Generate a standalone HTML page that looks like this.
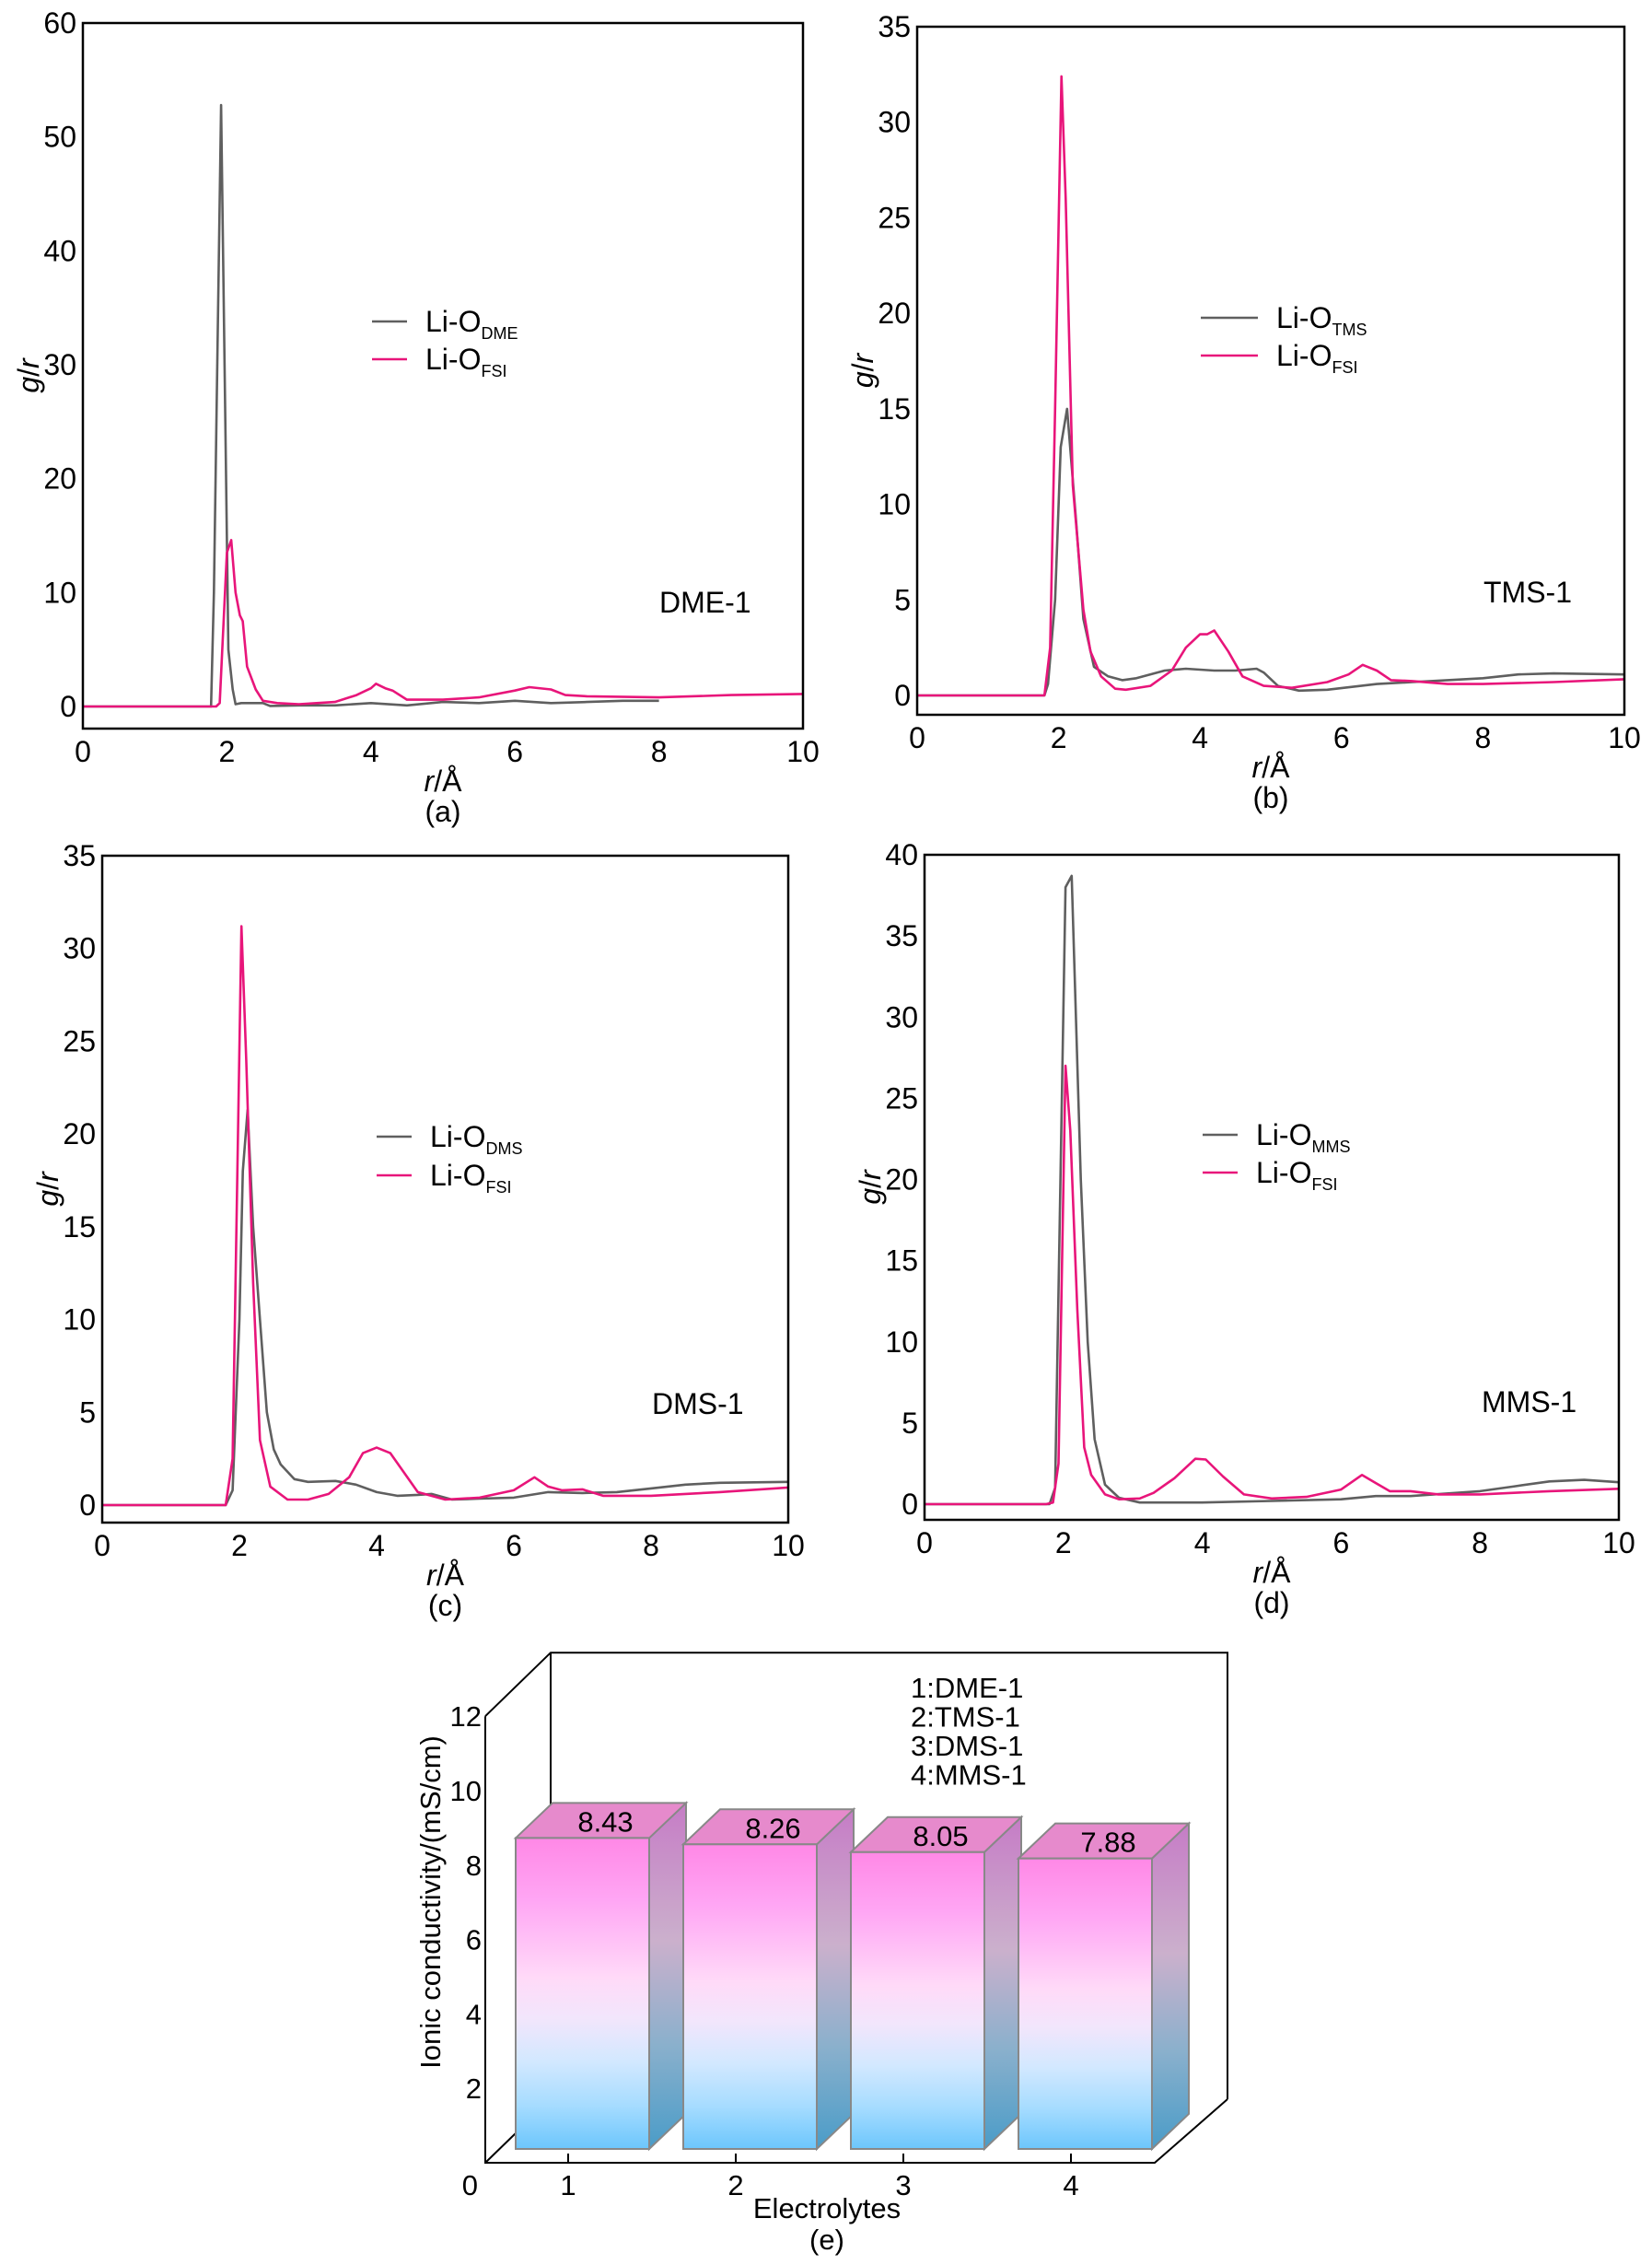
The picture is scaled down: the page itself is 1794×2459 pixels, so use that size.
<!DOCTYPE html>
<html><head><meta charset="utf-8">
<style>
html,body{margin:0;padding:0;background:#fff;}
svg{display:block;font-family:"Liberation Sans",Arial,sans-serif;}
</style></head>
<body>
<svg id="fig" width="1794" height="2459" viewBox="0 0 1794 2459" xmlns="http://www.w3.org/2000/svg">
<defs>
<linearGradient id="gFront" x1="0" y1="0" x2="0" y2="1">
<stop offset="0" stop-color="#ff88e6"/><stop offset="0.2" stop-color="#ffa6f4"/><stop offset="0.45" stop-color="#ffdaf8"/><stop offset="0.58" stop-color="#f2e6fc"/><stop offset="0.72" stop-color="#d2e8ff"/><stop offset="0.86" stop-color="#a6dcff"/><stop offset="1" stop-color="#6cc6fc"/>
</linearGradient>
<linearGradient id="gSide" x1="0" y1="0" x2="0" y2="1">
<stop offset="0" stop-color="#c67cc6"/><stop offset="0.4" stop-color="#cbb0cc"/><stop offset="0.7" stop-color="#8ab0cc"/><stop offset="1" stop-color="#4a9cc8"/>
</linearGradient>
</defs>
</svg>
<script>
// ---- Panel data (r in Å, g/r) ----
const aGrayR=[0,1.78,1.82,1.92,2.02,2.08,2.12,2.2,2.5,2.6,3,3.5,4,4.5,5,5.5,6,6.5,7,7.5,8];
const aGrayG=[0,0,10,52.8,5,1.5,0.2,0.3,0.3,0.05,0.1,0.1,0.3,0.1,0.4,0.3,0.5,0.3,0.4,0.5,0.5];
const aPinkR=[0,1.85,1.9,2.0,2.06,2.12,2.18,2.22,2.28,2.4,2.5,2.7,3.0,3.5,3.8,4.0,4.07,4.2,4.3,4.5,5,5.5,6,6.2,6.5,6.7,7,8,9,10];
const aPinkG=[0,0,0.3,13.5,14.6,10,8,7.5,3.5,1.5,0.5,0.3,0.2,0.4,1,1.6,2,1.6,1.4,0.6,0.6,0.8,1.4,1.7,1.5,1.0,0.9,0.8,1.0,1.1];
const bGrayR=[0,1.8,1.85,1.95,2.03,2.12,2.25,2.35,2.5,2.7,2.9,3.1,3.5,3.8,4.2,4.5,4.8,4.9,5.1,5.4,5.8,6.5,7,7.5,8,8.5,9,10];
const bGrayG=[0,0,0.6,5,13,15,9,4,1.5,1.0,0.8,0.9,1.3,1.4,1.3,1.3,1.4,1.2,0.5,0.25,0.3,0.6,0.7,0.8,0.9,1.1,1.15,1.1];
const bPinkR=[0,1.8,1.88,1.95,2.04,2.1,2.2,2.35,2.45,2.6,2.8,2.95,3.3,3.6,3.8,4.0,4.1,4.2,4.4,4.6,4.9,5.3,5.8,6.1,6.3,6.5,6.7,7,7.5,8,9,10];
const bPinkG=[0,0,2.5,15,32.4,26,11,4.5,2.3,1.0,0.35,0.3,0.5,1.3,2.5,3.2,3.2,3.4,2.3,1.0,0.5,0.4,0.7,1.1,1.6,1.3,0.8,0.75,0.6,0.6,0.7,0.85];
const cGrayR=[0,1.8,1.9,2.0,2.05,2.12,2.2,2.3,2.4,2.5,2.6,2.8,3.0,3.4,3.7,4.0,4.3,4.6,4.8,5.1,5.5,6,6.5,7,7.5,8,8.5,9,10];
const cGrayG=[0,0,0.8,10,18,21.3,15,10,5,3,2.2,1.4,1.25,1.3,1.1,0.7,0.5,0.55,0.6,0.3,0.35,0.4,0.7,0.65,0.7,0.9,1.1,1.2,1.25];
const cPinkR=[0,1.8,1.9,2.03,2.1,2.2,2.3,2.45,2.7,3.0,3.3,3.6,3.8,4.0,4.2,4.6,5.0,5.5,6.0,6.3,6.5,6.7,7.0,7.3,8,9,10];
const cPinkG=[0,0,2.5,31.2,24,12,3.5,1.0,0.3,0.3,0.6,1.5,2.8,3.1,2.8,0.7,0.3,0.4,0.8,1.5,1.0,0.8,0.85,0.5,0.5,0.7,0.95];
const dGrayR=[0,1.8,1.88,2.03,2.12,2.25,2.35,2.45,2.6,2.8,3.1,4,5,6,6.5,7,8,8.5,9,9.5,10];
const dGrayG=[0,0,1,38,38.7,20,10,4,1.2,0.4,0.1,0.1,0.2,0.3,0.5,0.5,0.8,1.1,1.4,1.5,1.35];
const dPinkR=[0,1.75,1.85,1.93,2.03,2.1,2.2,2.3,2.4,2.6,2.8,3.1,3.3,3.6,3.9,4.05,4.3,4.6,5.0,5.5,6.0,6.3,6.5,6.7,7.0,7.4,8,9,10];
const dPinkG=[0,0,0.1,2.5,27,23,12,3.5,1.8,0.6,0.3,0.35,0.7,1.6,2.8,2.75,1.7,0.6,0.35,0.45,0.9,1.8,1.3,0.8,0.8,0.6,0.6,0.8,0.95];
const xTicks=[0,2,4,6,8,10];
const aYTicks=[0,10,20,30,40,50,60];
const bYTicks=[0,5,10,15,20,25,30,35];
const cYTicks=[0,5,10,15,20,25,30,35];
const dYTicks=[0,5,10,15,20,25,30,35,40];
// ---- Bar chart data ----
const barCats=['1','2','3','4'];
const barValues=[8.43,8.26,8.05,7.88];
const barYTicks=[2,4,6,8,10,12];
const legendLines=['1:DME-1','2:TMS-1','3:DMS-1','4:MMS-1'];

const NS='http://www.w3.org/2000/svg';
const svg=document.getElementById('fig');
function mk(tag,attrs,parent){const e=document.createElementNS(NS,tag);for(const k in attrs)e.setAttribute(k,attrs[k]);(parent||svg).appendChild(e);return e;}
const GRAY='#5f5f5f',PINK='#e8157a';

function panel(cfg){
  const g=mk('g',{});
  
  
  const xs=v=>cfg.L+(cfg.R-cfg.L)*v/10;
  const ys=v=>cfg.y0-(cfg.y0-cfg.yTop)*v/cfg.ymax;
  const series=[[cfg.grayR,cfg.grayG,GRAY,'gray-series'],[cfg.pinkR,cfg.pinkG,PINK,'fsi-series']];
  series.forEach(s=>{
    const d=s[0].map((r,i)=>(i?'L':'M')+xs(r).toFixed(1)+','+ys(s[1][i]).toFixed(1)).join(' ');
    const p=mk('path',{d:d,fill:'none',stroke:s[2],'stroke-width':2.6,'stroke-linejoin':'round'},g);
    
    
  });
  const fr=mk('rect',{x:cfg.L,y:cfg.yTop,width:cfg.R-cfg.L,height:cfg.B-cfg.yTop,fill:'none',stroke:'#000','stroke-width':2.5},g);
  
  
  xTicks.forEach(v=>{
    const t=mk('text',{x:xs(v),y:cfg.B+36,'font-size':32,'text-anchor':'middle'},g);
    t.textContent=v;
    
    
  });
  cfg.yTicks.forEach(v=>{
    const t=mk('text',{x:cfg.L-7,y:ys(v)+11,'font-size':32,'text-anchor':'end'},g);
    t.textContent=v;
    
    
  });
  const xt=mk('text',{x:(cfg.L+cfg.R)/2,y:cfg.B+68,'font-size':32,'text-anchor':'middle'},g);
  xt.innerHTML='<tspan font-style="italic">r</tspan>/Å';
  
  
  const cap=mk('text',{x:(cfg.L+cfg.R)/2,y:cfg.B+101,'font-size':32,'text-anchor':'middle'},g);
  cap.textContent=cfg.cap;
  
  
  const yt=mk('text',{x:0,y:0,'font-size':32,'text-anchor':'middle',transform:`translate(${cfg.L-48},${(cfg.yTop+cfg.B)/2}) rotate(-90)`},g);
  yt.innerHTML='<tspan font-style="italic">g</tspan>/<tspan font-style="italic">r</tspan>';
  
  
  [[GRAY,cfg.sub,cfg.legY1],[PINK,'FSI',cfg.legY2]].forEach(l=>{
    const ln=mk('line',{x1:cfg.legX1,x2:cfg.legX2,y1:l[2],y2:l[2],stroke:l[0],'stroke-width':2.6},g);
    
    
    const t=mk('text',{x:cfg.legX2+20,y:l[2]+11,'font-size':32},g);
    t.innerHTML='Li-O<tspan font-size="18" dy="8">'+l[1]+'</tspan>';
    
    
  });
  const lab=mk('text',{x:cfg.labX,y:cfg.labY,'font-size':32},g);
  lab.textContent=cfg.label;
  
  
}

panel({name:'panel-a',L:90,R:872,yTop:25,y0:767,B:791,ymax:60,yTicks:aYTicks,grayR:aGrayR,grayG:aGrayG,pinkR:aPinkR,pinkG:aPinkG,sub:'DME',legX1:404,legX2:442,legY1:349,legY2:390,label:'DME-1',labX:716,labY:665,cap:'(a)'});
panel({name:'panel-b',L:996,R:1764,yTop:29,y0:755,B:776,ymax:35,yTicks:bYTicks,grayR:bGrayR,grayG:bGrayG,pinkR:bPinkR,pinkG:bPinkG,sub:'TMS',legX1:1304,legX2:1366,legY1:345,legY2:386,label:'TMS-1',labX:1611,labY:654,cap:'(b)'});
panel({name:'panel-c',L:111,R:856,yTop:929,y0:1634,B:1653,ymax:35,yTicks:cYTicks,grayR:cGrayR,grayG:cGrayG,pinkR:cPinkR,pinkG:cPinkG,sub:'DMS',legX1:409,legX2:447,legY1:1234,legY2:1276,label:'DMS-1',labX:708,labY:1535,cap:'(c)'});
panel({name:'panel-d',L:1004,R:1758,yTop:928,y0:1633,B:1650,ymax:40,yTicks:dYTicks,grayR:dGrayR,grayG:dGrayG,pinkR:dPinkR,pinkG:dPinkG,sub:'MMS',legX1:1306,legX2:1344,legY1:1232,legY2:1273,label:'MMS-1',labX:1609,labY:1533,cap:'(d)'});

// ---- Panel e: 3D bar chart ----
(function(){
  const g=mk('g',{});
  
  
  const AX=527, Y0=2348, PER=40.4, DX=71, DY=-69, FLOOR_R=1254, BACK_R=1333;
  const ys=v=>Y0-PER*v;
  const xc=i=>617+182*i;
  const st={stroke:'#000','stroke-width':2,fill:'none'};
  const box=mk('path',Object.assign({d:`M${AX},${ys(12)} L${AX},${Y0} L${FLOOR_R},${Y0} L${FLOOR_R+DX+8},${Y0+DY} M${AX},${ys(12)} L${AX+DX},${ys(12)+DY} L${BACK_R},${ys(12)+DY} L${BACK_R},${Y0+DY} L${FLOOR_R+DX+8},${Y0+DY} M${AX+DX},${ys(12)+DY} L${AX+DX},${Y0+DY} M${AX},${Y0} L${AX+DX},${Y0+DY}`},st),g);
  
  
  const bdx=40,bdy=-38,bw=145;
  barValues.forEach((v,i)=>{
    const L=xc(i)-57, R=L+bw, T=ys(v)-12, Bt=Y0-15;
    const bg=mk('g',{},g);
    
    
    mk('path',{d:`M${R},${T} L${R+bdx},${T+bdy} L${R+bdx},${Bt+bdy} L${R},${Bt} Z`,fill:'url(#gSide)',stroke:'#888','stroke-width':2},bg);
    mk('path',{d:`M${L},${T} L${L+bdx},${T+bdy} L${R+bdx},${T+bdy} L${R},${T} Z`,fill:'#e68acc',stroke:'#888','stroke-width':2},bg);
    mk('rect',{x:L,y:T,width:bw,height:Bt-T,fill:'url(#gFront)',stroke:'#888','stroke-width':2},bg);
    const t=mk('text',{x:L+bw/2+bdx/2+5,y:T-7,'font-size':31,'text-anchor':'middle'},bg);
    t.textContent=v.toFixed(2);
    
    
    mk('line',{x1:xc(i),x2:xc(i),y1:Y0,y2:Y0-10,stroke:'#000','stroke-width':2},g);
    const c=mk('text',{x:xc(i),y:Y0+35,'font-size':31,'text-anchor':'middle'},g);
    c.textContent=barCats[i];
    
    
  });
  barYTicks.forEach(v=>{
    const t=mk('text',{x:AX-4,y:ys(v)+11,'font-size':31,'text-anchor':'end'},g);
    t.textContent=v;
    
    
  });
  const z=mk('text',{x:AX-8,y:Y0+35,'font-size':31,'text-anchor':'end'},g);
  z.textContent='0';
  
  
  legendLines.forEach((s,i)=>{
    const t=mk('text',{x:989,y:1843+31.5*i,'font-size':31},g);
    t.textContent=s;
    
    
  });
  const yt=mk('text',{x:0,y:0,'font-size':31,'text-anchor':'middle',transform:`translate(478,2065) rotate(-90)`},g);
  yt.textContent='Ionic conductivity/(mS/cm)';
  
  
  const xt=mk('text',{x:898,y:2408,'font-size':31,'text-anchor':'middle'},g);
  xt.textContent='Electrolytes';
  
  
  const cp=mk('text',{x:898,y:2442,'font-size':31,'text-anchor':'middle'},g);
  cp.textContent='(e)';
  
  
})();
</script>
</body></html>
